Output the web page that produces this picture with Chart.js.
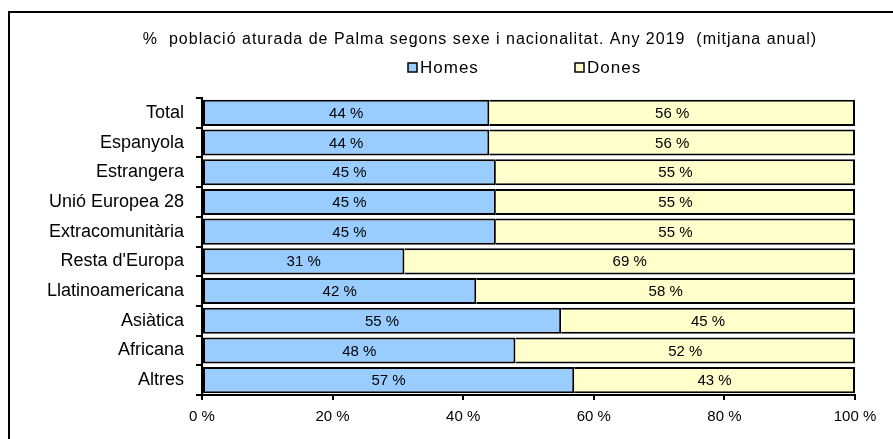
<!DOCTYPE html>
<html>
<head>
<meta charset="utf-8">
<script src="https://cdn.jsdelivr.net/npm/chart.js@4.4.1/dist/chart.umd.min.js"></script>
<style>
  body { margin: 0; background: #fff; }
  #box { width: 893px; height: 439px; }
</style>
</head>
<body>
<div id="box"><canvas id="aturChart" width="893" height="439"></canvas></div>
<script>
let categories = [
  "Total",
  "Espanyola",
  "Estrangera",
  "Unió Europea 28",
  "Extracomunitària",
  "Resta d'Europa",
  "Llatinoamericana",
  "Asiàtica",
  "Africana",
  "Altres",
];
let homes = [44, 44, 45, 45, 45, 31, 42, 55, 48, 57];
let dones = [56, 56, 55, 55, 55, 69, 58, 45, 52, 43];
let xTicks = [0, 20, 40, 60, 80, 100];
let titleText =
  "%  població aturada de Palma segons sexe i nacionalitat. Any 2019  (mitjana anual)";

let font = "'Liberation Sans', Arial, sans-serif";

// frame, title and legend
let decorPlugin = {
  id: "decor",
  afterDraw(chart) {
    let c = chart.ctx;
    c.save();
    c.strokeStyle = "#000";
    c.lineWidth = 2;
    c.strokeRect(9, 12, 950, 500);

    c.fillStyle = "#000";
    c.font = "16px " + font;
    c.letterSpacing = "1px";
    c.textAlign = "center";
    c.textBaseline = "middle";
    c.fillText(titleText, 480, 40);

    let items = [
      { x: 408, ds: chart.data.datasets[0] },
      { x: 575, ds: chart.data.datasets[1] },
    ];
    c.font = "17px " + font;
    c.textAlign = "left";
    items.forEach((it) => {
      c.fillStyle = it.ds.backgroundColor;
      c.fillRect(it.x, 63, 9, 9);
      c.lineWidth = 1.5;
      c.strokeRect(it.x, 63, 9, 9);
      c.fillStyle = "#000";
      c.fillText(it.ds.label, it.x + 12, 68);
    });
    c.restore();
  },
};

// value labels in the middle of each bar piece
let valuePlugin = {
  id: "values",
  afterDatasetsDraw(chart) {
    let c = chart.ctx;
    c.save();
    c.fillStyle = "#000";
    c.font = "15px " + font;
    c.textAlign = "center";
    c.textBaseline = "middle";
    chart.data.datasets.forEach((ds, i) => {
      chart.getDatasetMeta(i).data.forEach((bar, j) => {
        c.fillText(ds.data[j] + " %", (bar.x + bar.base) / 2, bar.y + 1);
      });
    });
    c.restore();
  },
};

let ctx = document.getElementById("aturChart").getContext("2d");
let aturChart = new Chart(ctx, {
  type: "bar",
  data: {
    labels: categories,
    datasets: [
      {
        label: "Homes",
        data: homes,
        backgroundColor: "#99ccff",
        borderColor: "#000",
        borderWidth: { top: 2, bottom: 2, left: 2, right: 2 },
        borderSkipped: false,
      },
      {
        label: "Dones",
        data: dones,
        backgroundColor: "#ffffcc",
        borderColor: "#000",
        borderWidth: { top: 2, bottom: 2, left: 0, right: 2 },
        borderSkipped: false,
      },
    ],
  },
  options: {
    indexAxis: "y",
    responsive: false,
    animation: false,
    devicePixelRatio: 1,
    barPercentage: 0.88,
    categoryPercentage: 1,
    layout: { padding: { top: 98, right: 38, left: 0, bottom: 0 } },
    plugins: {
      legend: { display: false },
      title: { display: false },
      tooltip: { enabled: false },
    },
    scales: {
      x: {
        stacked: true,
        min: 0,
        max: 100,
        afterBuildTicks(scale) {
          scale.ticks = xTicks.map((v) => ({ value: v }));
        },
        afterFit(scale) {
          scale.height = 44;
        },
        ticks: {
          color: "#000",
          font: { family: font, size: 15 },
          padding: 8,
          callback: (v) => v + " %",
        },
        grid: {
          drawOnChartArea: false,
          drawTicks: true,
          tickLength: 5,
          color: "#000",
          lineWidth: 2,
        },
        border: { color: "#000", width: 2 },
      },
      y: {
        stacked: true,
        afterFit(scale) {
          scale.width = 202;
        },
        ticks: {
          color: "#000",
          font: { family: font, size: 18 },
          padding: 12,
        },
        grid: {
          offset: true,
          drawOnChartArea: false,
          drawTicks: true,
          tickLength: 6,
          color: "#000",
          lineWidth: 2,
        },
        border: { color: "#000", width: 2 },
      },
    },
  },
  plugins: [valuePlugin, decorPlugin],
});
</script>
</body>
</html>
